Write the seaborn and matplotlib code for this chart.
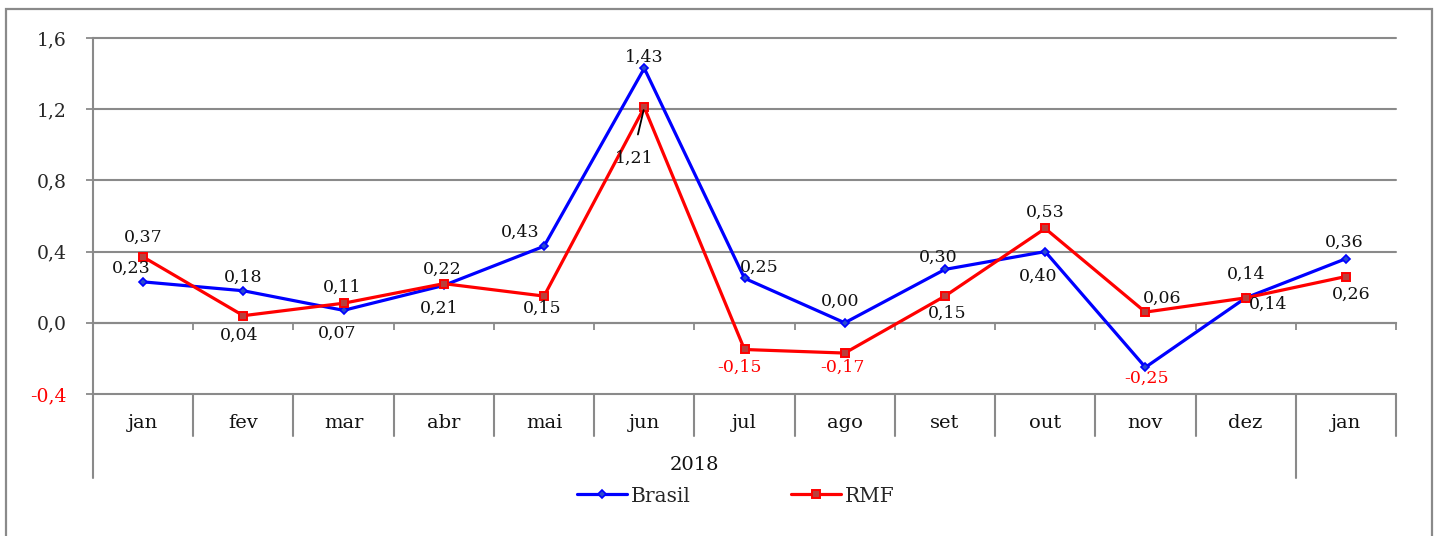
import matplotlib
matplotlib.use("Agg")
import matplotlib.pyplot as plt
import matplotlib.transforms as mtransforms
from matplotlib.patches import Rectangle
import numpy as np
import pandas as pd
import seaborn as sns

# Monthly variation (%) — Brasil vs RMF
meses = ["jan", "fev", "mar", "abr", "mai", "jun", "jul", "ago", "set", "out", "nov", "dez", "jan"]
ano = "2018"
n_ano = 12  # months belonging to the 2018 group
brasil = [0.23, 0.18, 0.07, 0.21, 0.43, 1.43, 0.25, 0.00, 0.30, 0.40, -0.25, 0.14, 0.36]
rmf = [0.37, 0.04, 0.11, 0.22, 0.15, 1.21, -0.15, -0.17, 0.15, 0.53, 0.06, 0.14, 0.26]
y_ticks = [-0.4, 0.0, 0.4, 0.8, 1.2, 1.6]

# label offsets in pixels (dx, dy) relative to each point
off_brasil = [(-12, 14), (0, 13), (-6, -23), (-5, -23), (-24, 14), (0, 11), (15, 11),
              (-5, 21), (-7, 12), (-7, -25), (1, -11), (0, 24), (-2, 16)]
off_rmf = [(0, 20), (-4, -20), (-1, 16), (-2, 14), (-2, -12), (-10, -51), (-5, -18),
           (-2, -14), (2, -17), (0, 16), (17, 14), (22, -6), (5, -18)]

sns.set_theme(style="white")
plt.rcParams["font.family"] = ["DejaVu Serif"]

W, H = 1437, 536
fig = plt.figure(figsize=(W / 100, H / 100), dpi=100)
ax = fig.add_axes([93 / W, 1 - 394 / H, (1396 - 93) / W, (394 - 38) / H])

grey = "#8a8a8a"
x = np.arange(len(meses))
df = pd.DataFrame({"x": x, "Brasil": brasil, "RMF": rmf})

sns.lineplot(data=df, x="x", y="Brasil", ax=ax, color="#0000ff", lw=2.3,
             marker="D", markersize=4.3, markerfacecolor="#2a4bd0",
             markeredgecolor="#0000ff", markeredgewidth=1.2, label="Brasil",
             zorder=4)
sns.lineplot(data=df, x="x", y="RMF", ax=ax, color="#ff0000", lw=2.3,
             marker="s", markersize=6.2, markerfacecolor="#b8403c",
             markeredgecolor="#ff0000", markeredgewidth=1.4, label="RMF",
             zorder=5)

ax.set_xlim(-0.5, len(meses) - 0.5)
ax.set_ylim(y_ticks[0], y_ticks[-1])
ax.set_xlabel("")
ax.set_ylabel("")

# y axis
ax.set_yticks(y_ticks)
ax.set_yticklabels([f"{v:.1f}".replace(".", ",") for v in y_ticks], fontsize=13.5)
ax.get_yticklabels()[0].set_color("#ff0000")
ax.tick_params(axis="y", which="major", left=True, length=5, width=1.3,
               color=grey, pad=14, direction="out")
ax.yaxis.grid(True, color=grey, lw=1.5)
ax.xaxis.grid(False)
for gl in ax.get_ygridlines():
    gl.set_clip_on(False)

# category axis crosses at zero
bounds = np.arange(-0.5, len(meses), 1.0)
ax.spines["bottom"].set_position(("data", 0))
ax.spines["bottom"].set_color(grey)
ax.spines["bottom"].set_linewidth(1.5)
ax.set_xticks(bounds)
ax.set_xticklabels([])
ax.tick_params(axis="x", which="major", bottom=True, length=5, width=1.3,
               color=grey, direction="out")
ax.spines["left"].set_color(grey)
ax.spines["left"].set_linewidth(1.5)
ax.spines["top"].set_visible(False)
ax.spines["right"].set_visible(False)

# category table beneath the plot
tr = mtransforms.blended_transform_factory(ax.transData, ax.transAxes)
for b in bounds:
    low = -0.236 if b in (-0.5, n_ano - 0.5) else -0.118
    ax.plot([b, b], [0, low], transform=tr, color=grey, lw=1.5, clip_on=False)
for i, m in enumerate(meses):
    ax.text(i, -0.0815, m, transform=tr, ha="center", va="center", fontsize=14,
            color="#111111")
ax.text((n_ano - 1) / 2, -0.199, ano, transform=tr, ha="center", va="center",
        fontsize=14, color="#111111")


def fmt(v):
    return f"{v:.2f}".replace(".", ",")


def label_series(vals, offs, leader_idx=None):
    for i, (v, (dx, dy)) in enumerate(zip(vals, offs)):
        col = "#ff0000" if v < 0 else "#111111"
        kw = {}
        if i == leader_idx:
            kw["arrowprops"] = dict(arrowstyle="-", color="black", lw=1.3,
                                    shrinkA=9, shrinkB=2, relpos=(0.5, 1.0))
        ax.annotate(fmt(v), xy=(i, v), xytext=(dx, dy), textcoords="offset pixels",
                    ha="center", va="center", fontsize=12.5, color=col,
                    zorder=6, **kw)


label_series(brasil, off_brasil)
label_series(rmf, off_rmf, leader_idx=5)

# legend
ax.legend(loc="center", bbox_to_anchor=(736 / W, 1 - 496 / H),
          bbox_transform=fig.transFigure, ncol=2, frameon=False,
          handlelength=2.45, columnspacing=5.0, handletextpad=0.2,
          fontsize=14.5)

# outer frame
fig.patches.append(Rectangle((6 / W, -0.02), (1432 - 6) / W, (1 - 9 / H) + 0.02,
                             transform=fig.transFigure, fill=False,
                             edgecolor=grey, lw=1.6))

fig.savefig("out.png", dpi=100)
